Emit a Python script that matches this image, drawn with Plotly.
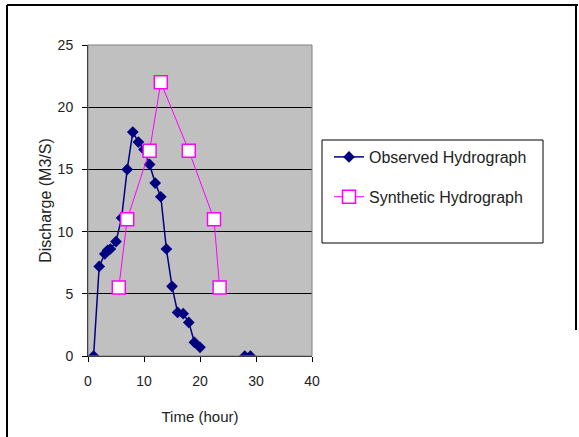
import plotly.graph_objects as go

# Observed hydrograph (time in hours, discharge in m3/s); None breaks the line
obs_time = [1, 2, 3, 3.5, 4, 5, 6, 7, 8, 9, 10, 11, 12, 13, 14, 15, 16, 17, 18, 19, 20,
            None, 28, 29]
obs_q = [0, 7.2, 8.2, 8.5, 8.6, 9.2, 11.1, 15.0, 18.0, 17.2, 16.6, 15.4, 13.9, 12.8, 8.6,
         5.6, 3.5, 3.4, 2.7, 1.1, 0.7, None, 0, 0]

# Synthetic hydrograph
syn_time = [5.5, 7, 11, 13, 18, 22.5, 23.5]
syn_q = [5.5, 11, 16.5, 22, 16.5, 11, 5.5]

x_ticks = [0, 10, 20, 30, 40]
y_ticks = [0, 5, 10, 15, 20, 25]

W, H = 579, 437
L, R, T, B = 88, 312, 45, 356  # plot-area edges in pixels


def fx(x):
    """pixel column -> figure fraction"""
    return x / W


def fy(y):
    """pixel row -> figure fraction (from bottom)"""
    return (H - y) / H


FONT = "Arial, Liberation Sans, sans-serif"
INK = "#222222"

fig = go.Figure()
fig.add_trace(go.Scatter(
    x=obs_time, y=obs_q, mode="lines+markers", name="Observed Hydrograph",
    legendgroup="a", connectgaps=False,
    line=dict(color="#000080", width=1.5),
    marker=dict(symbol="diamond", size=9, color="#000080"),
))
fig.add_trace(go.Scatter(
    x=syn_time, y=syn_q, mode="lines+markers", name="Synthetic Hydrograph",
    legendgroup="b",
    line=dict(color="#FF00FF", width=1),
    marker=dict(symbol="square", size=13, color="white",
                line=dict(color="#FF00FF", width=1.5)),
))

shapes = [
    # plot-area frame
    dict(type="rect", xref="paper", yref="paper", x0=fx(L), x1=fx(R),
         y0=fy(B), y1=fy(T), line=dict(color="#808080", width=1), layer="above"),
    # legend box
    dict(type="rect", xref="paper", yref="paper", x0=fx(322), x1=fx(543),
         y0=fy(243), y1=fy(140), line=dict(color="black", width=1),
         fillcolor="white", layer="below"),
    # outer frame: left, top and right edges
    dict(type="line", xref="paper", yref="paper", x0=fx(7), x1=fx(7),
         y0=0, y1=fy(5), line=dict(color="#000000", width=2)),
    dict(type="line", xref="paper", yref="paper", x0=fx(7), x1=fx(578),
         y0=fy(5), y1=fy(5), line=dict(color="#000000", width=2)),
    dict(type="line", xref="paper", yref="paper", x0=fx(576), x1=fx(576),
         y0=fy(330), y1=fy(5), line=dict(color="#000000", width=2)),
]

fig.update_layout(
    width=W, height=H,
    margin=dict(l=0, r=0, t=0, b=0, autoexpand=False),
    paper_bgcolor="white",
    plot_bgcolor="#C0C0C0",
    font=dict(family=FONT, size=13, color=INK),
    shapes=shapes,
    showlegend=True,
    legend=dict(
        x=fx(329), y=fy(140), xanchor="left", yanchor="top",
        bgcolor="rgba(0,0,0,0)", borderwidth=0,
        tracegroupgap=16, itemwidth=30,
        font=dict(family=FONT, size=16, color=INK),
    ),
    xaxis=dict(
        domain=[fx(L), fx(R)], automargin=False,
        range=[0, 40], tickvals=x_ticks, ticks="outside", ticklen=5,
        tickcolor="black", showline=True, linecolor="black", linewidth=1,
        showgrid=False, zeroline=False, ticklabelstandoff=7,
        tickfont=dict(family=FONT, size=14, color=INK),
        title=dict(text="Time (hour)", standoff=23,
                   font=dict(family=FONT, size=15, color=INK)),
    ),
    yaxis=dict(
        domain=[fy(B), fy(T)], automargin=False,
        range=[0, 25], tickvals=y_ticks, ticks="outside", ticklen=5,
        tickcolor="black", showline=True, linecolor="black", linewidth=1,
        showgrid=True, gridcolor="black", gridwidth=1, zeroline=False,
        ticklabelstandoff=6,
        tickfont=dict(family=FONT, size=14, color=INK),
        title=dict(text="Discharge (M3/S)", standoff=2,
                   font=dict(family=FONT, size=16, color=INK)),
    ),
)

fig.write_html("out.html")
